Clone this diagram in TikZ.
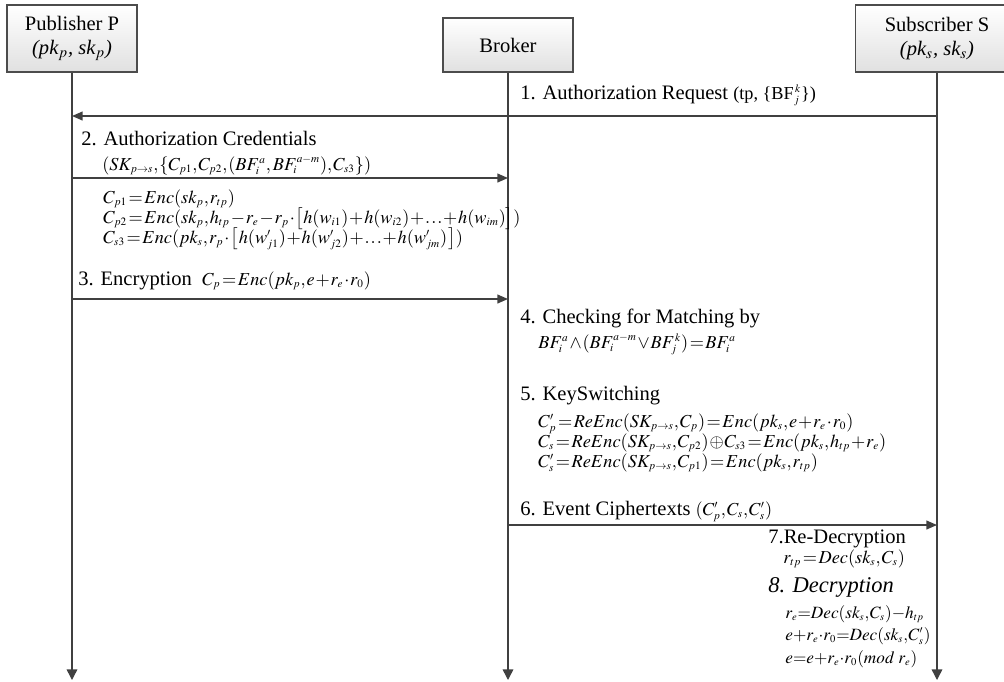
\documentclass[tikz,border=0pt]{standalone}
\usepackage{mathptmx}
\usepackage{amsmath,amssymb}
\usepackage{fontspec}
\setmainfont{Liberation Serif}
\usetikzlibrary{arrows.meta,calc}
\DeclareMathSizes{10.4}{10.4}{6.4}{5}
\DeclareMathSizes{9.8}{9.8}{6}{4.8}
\newcommand\eqspacing{\thickmuskip=1.5mu\relax\medmuskip=0.8mu\relax\thinmuskip=1mu\relax}
\newcommand\eqtight{\thickmuskip=0mu\relax\medmuskip=0mu\relax\thinmuskip=0.5mu\relax}

\begin{document}
\begin{tikzpicture}[x=0.02cm, y=-0.02cm,
    every node/.style={font=\fontsize{11.7}{14}\selectfont, inner sep=0pt},
    actor/.style={draw=black!70, line width=0.6pt, top color=white, bottom color=black!12,
      minimum width=2.6cm, align=center},
    life/.style={draw=black!75, line width=0.8pt, -{Triangle[length=6pt,width=6pt]}},
    msg/.style={draw=black!75, line width=0.8pt, -{Triangle[length=6pt,width=5pt]}},
    txt/.style={anchor=base west},
    eq/.style={anchor=base west, font=\fontsize{10.4}{12}\selectfont\eqspacing},
    tighteq/.style={anchor=base west, font=\fontsize{9.8}{12}\selectfont\eqtight}]
  \useasboundingbox (0,0) rectangle (1004,681);
  \clip (0,0) rectangle (1004,681);
  % participants
  \node[actor, minimum height=1.34cm] (pub) at (72,38.5) {Publisher P\\\textit{(pk$_p$, sk$_p$)}};
  \node[actor, minimum height=1.08cm] (brk) at (508,45) {Broker};
  \node[actor, minimum height=1.34cm, minimum width=3.28cm] (sub) at (937,38.5) {Subscriber S\\\textit{(pk$_s$, sk$_s$)}};
  \coordinate (end) at (0,680);
  \foreach \n in {pub,brk,sub} \draw[life] (\n.south) -- (\n.south |- end);
  % message rows
  \coordinate (m1) at (0,116);
  \coordinate (m2) at (0,178);
  \coordinate (m3) at (0,299);
  \coordinate (m6) at (0,525);
  \draw[msg] (sub |- m1) -- (pub |- m1);
  \draw[msg] (pub |- m2) -- (brk |- m2);
  \draw[msg] (pub |- m3) -- (brk |- m3);
  \draw[msg] (brk |- m6) -- (sub |- m6);
  % 1.
  \node[txt] (l1) at (520,99) {1. Authorization Request {\fontsize{10.4}{12}\selectfont(tp, \{BF$_j^{\,k}$\})}};
  % 2.
  \node[txt] (l2) at (81,145) {2. Authorization Credentials};
  \node[eq] (f2) at (102,170) {$(SK_{p\rightarrow s},\{C_{p1},C_{p2},(BF_i^{a},\,BF_i^{a-m}),C_{s3}\})$};
  \node[eq] (c1) at (103,203) {$C_{p1}=Enc(sk_p,r_{tp})$};
  \node[eq] (c2) at (103,223) {$C_{p2}=Enc(sk_p,h_{tp}-r_e-r_p\cdot\bigl[h(w_{i1})+h(w_{i2})+\ldots+h(w_{im})\bigr])$};
  \node[eq] (c3) at (103,243) {$C_{s3}=Enc(pk_s,r_p\cdot\bigl[\,h(w'_{j1})+h(w'_{j2})+\ldots+h(w'_{jm})\,\bigr])$};
  % 3.
  \node[txt] (l3) at (78,285) {3. Encryption};
  \node[eq] (f3) at (202,285) {$C_p=Enc(pk_p,e+r_e\cdot r_0)$};
  % 4.
  \node[txt] (l4) at (520,323) {4. Checking for Matching by};
  \node[eq] (f4) at (538,348) {$BF_i^a\wedge(BF_i^{a-m}\vee BF_j^{\,k})=BF_i^a$};
  % 5.
  \node[txt] (l5) at (520,400) {5. KeySwitching};
  \node[eq] (k1) at (538,427) {$C'_p=ReEnc(SK_{p\rightarrow s},C_p)=Enc(pk_s,e+r_e\cdot r_0)$};
  \node[eq] (k2) at (538,447) {$C_s=ReEnc(SK_{p\rightarrow s},C_{p2})\oplus C_{s3}=Enc(pk_s,h_{tp}+r_e)$};
  \node[eq] (k3) at (538,467) {$C'_s=ReEnc(SK_{p\rightarrow s},C_{p1})=Enc(pk_s,r_{tp})$};
  % 6.
  \node[txt] (l6) at (520,515) {6. Event Ciphertexts {\fontsize{10.4}{12}\selectfont\eqspacing$(C'_p,C_s,C'_s)$}};
  % 7. and 8.
  \node[txt] (l7) at (768,543) {7.Re-Decryption};
  \node[eq] (d0) at (783,563) {$r_{tp}=Dec(sk_s,C_s)$};
  \node[txt, font=\fontsize{12.8}{15}\selectfont\itshape] (l8) at (768,592) {8. Decryption};
  \node[tighteq] (d1) at (785,618) {$r_e=Dec(sk_s,C_s)-h_{tp}$};
  \node[tighteq] (d2) at (785,640) {$e+r_e\cdot r_0=Dec(sk_s,C'_s)$};
  \node[tighteq] (d3) at (785,663) {$e=e+r_e\cdot r_0(mod\mskip4mu r_e)$};
\end{tikzpicture}
\end{document}
